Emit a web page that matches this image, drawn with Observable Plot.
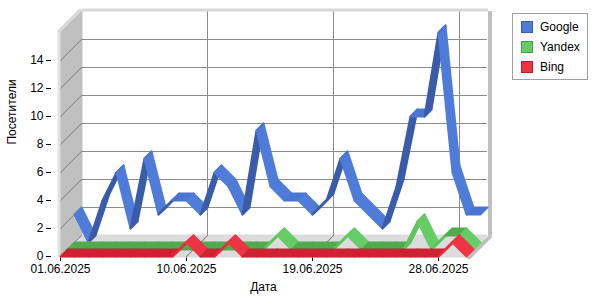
<!DOCTYPE html>
<html><head><meta charset="utf-8">
<script src="https://cdn.jsdelivr.net/npm/d3@7"></script>
<script src="https://cdn.jsdelivr.net/npm/@observablehq/plot@0.6"></script>
<style>
body{margin:0;background:#fff;}
#wrap{position:relative;width:600px;height:300px;font-family:"Liberation Sans",Arial,sans-serif;}
#legend{position:absolute;left:512px;top:13px;width:76px;height:67px;border:1px solid #a0a0a0;background:#fff;box-sizing:border-box;font-size:12px;color:#000;}
.item{position:absolute;left:8px;height:12px;display:flex;align-items:center;white-space:nowrap;}
.sw{width:12px;height:12px;border:1px solid;box-sizing:border-box;margin-right:7px;}
</style></head>
<body><div id="wrap"><div id="chart"></div><div id="legend"></div></div>
<script>
const dates = ["01.06.2025","02.06.2025","03.06.2025","04.06.2025","05.06.2025","06.06.2025","07.06.2025","08.06.2025","09.06.2025","10.06.2025",
"11.06.2025","12.06.2025","13.06.2025","14.06.2025","15.06.2025","16.06.2025","17.06.2025","18.06.2025","19.06.2025","20.06.2025",
"21.06.2025","22.06.2025","23.06.2025","24.06.2025","25.06.2025","26.06.2025","27.06.2025","28.06.2025","29.06.2025","30.06.2025"];
const google = [2,0,3,5,1,6,2,3,3,2,5,4,2,8,4,3,3,2,3,6,3,2,1,4,9,9,15,5,2,2];
const yandex = [0,0,0,0,0,0,0,0,0,0,0,0,0,0,0,1,0,0,0,0,1,0,0,0,0,2,0,1,1,0];
const bing   = [0,0,0,0,0,0,0,0,0,1,0,0,1,0,0,0,0,0,0,0,0,0,0,0,0,0,0,0,1,0];
const xTicks = ["01.06.2025","10.06.2025","19.06.2025","28.06.2025"];
const yTicks = [0,2,4,6,8,10,12,14];
const yMax = 16;
const seriesNames = ["Google","Yandex","Bing"];

const DEPTH = 21;
const series = [
  {name:"Google", values:google, back:21, front:14, up:"#3b5ca9", down:"#4f7cd9", flat:"#4a76d2", legendFill:"#4f7bd8", legendStroke:"#3a5ba8"},
  {name:"Yandex", values:yandex, back:14, front:7, up:"#5fc45f", down:"#66cc66", flat:"#4fab4f", legendFill:"#66cc66", legendStroke:"#4a9a4a"},
  {name:"Bing",   values:bing,   back:7,  front:0, up:"#ea2c40", down:"#ee3344", flat:"#cc2333", legendFill:"#ee3344", legendStroke:"#b02030"}
];

const first = dates[0], last = dates[dates.length-1];
const marks = [];
// left wall
for (let k=0;k<=DEPTH;k++) marks.push(Plot.ruleX([first],{y1:0,y2:yMax,dx:k,dy:-k,stroke:"#c0c0c0",strokeWidth:2}));
// floor
for (let k=0;k<=DEPTH;k++) marks.push(Plot.ruleY([0],{x1:()=>first,x2:()=>last,dx:k,dy:-k,stroke:"#dcdcdc",strokeWidth:2}));
// diagonal grid lines on wall and floor
const diag = [...yTicks.map(v=>({x:first,y:v})), ...xTicks.slice(1).map(d=>({x:d,y:0}))];
for (let k=0;k<=DEPTH;k++) marks.push(Plot.dot(diag,{x:"x",y:"y",dx:k,dy:-k,r:0.7,fill:"#8c8c8c",stroke:null}));
// back wall grid
marks.push(Plot.ruleY(yTicks.filter(v=>v>0),{x1:()=>first,x2:()=>last,dx:DEPTH,dy:-DEPTH,stroke:"#8c8c8c",strokeWidth:1}));
marks.push(Plot.ruleX(xTicks.slice(1),{y1:0,y2:yMax,dx:DEPTH,dy:-DEPTH,stroke:"#8c8c8c",strokeWidth:1}));
// frame bands
marks.push(Plot.ruleX([last],{y1:0,y2:yMax,dx:DEPTH+2.5,dy:-DEPTH,stroke:"#c0c0c0",strokeWidth:4}));
for (let k=0;k<=DEPTH;k++) marks.push(Plot.dot([{x:last,y:0}],{x:"x",y:"y",dx:k+2.5,dy:-k+1,r:2,fill:"#c0c0c0",stroke:null}));
marks.push(Plot.ruleY([yMax],{x1:()=>first,x2:()=>last,dx:DEPTH+1,dy:-DEPTH-1.5,stroke:"#d8d8d8",strokeWidth:3}));
for (let k=0;k<=DEPTH;k++) marks.push(Plot.dot([{x:first,y:yMax}],{x:"x",y:"y",dx:k-1.5,dy:-k-1.5,r:1.6,fill:"#d8d8d8",stroke:null}));
marks.push(Plot.ruleX([first],{y1:0,y2:yMax,dx:-1.5,stroke:"#e2e2e2",strokeWidth:3}));

// ribbons
for (const s of series) {
  const segs = d3.range(dates.length-1).map(i => {
    const a = s.values[i], b = s.values[i+1];
    return {x1:dates[i], x2:dates[i+1], y1:a, y2:b, c: b>a ? s.up : b<a ? s.down : s.flat};
  });
  for (let k=s.back;k>=s.front;k-=1) {
    marks.push(Plot.link(segs,{x1:"x1",y1:"y1",x2:"x2",y2:"y2",stroke:"c",strokeWidth:2,strokeLinecap:"round",dx:k,dy:-k}));
  }
}

marks.push(Plot.text(["Дата"],{text:d=>d,frameAnchor:"bottom",dy:34,fontSize:12}));
marks.push(Plot.text(["Посетители"],{text:d=>d,frameAnchor:"left",dx:-39,rotate:-90,fontSize:12}));

const chart = Plot.plot({
  width:600, height:300,
  marginLeft:51, marginRight:125, marginTop:32, marginBottom:44,
  style:{fontFamily:"Liberation Sans, Arial, sans-serif", fontSize:"12px", color:"#000", background:"white", overflow:"visible"},
  x:{type:"point", domain:dates, range:[51.5,475], padding:0, ticks:xTicks, tickSize:5, tickPadding:3, label:null},
  y:{domain:[0,yMax], range:[256,32], ticks:yTicks, tickSize:5, tickPadding:3, label:null},
  color:{type:"identity"},
  marks
});
document.getElementById("chart").appendChild(chart);

const legend = document.getElementById("legend");
series.forEach((s,i)=>{
  const it = document.createElement("div");
  it.className="item"; it.style.top=(7+20*i)+"px";
  it.innerHTML = `<div class="sw" style="background:${s.legendFill};border-color:${s.legendStroke}"></div><span>${seriesNames[i]}</span>`;
  legend.appendChild(it);
});
</script>
</body></html>
